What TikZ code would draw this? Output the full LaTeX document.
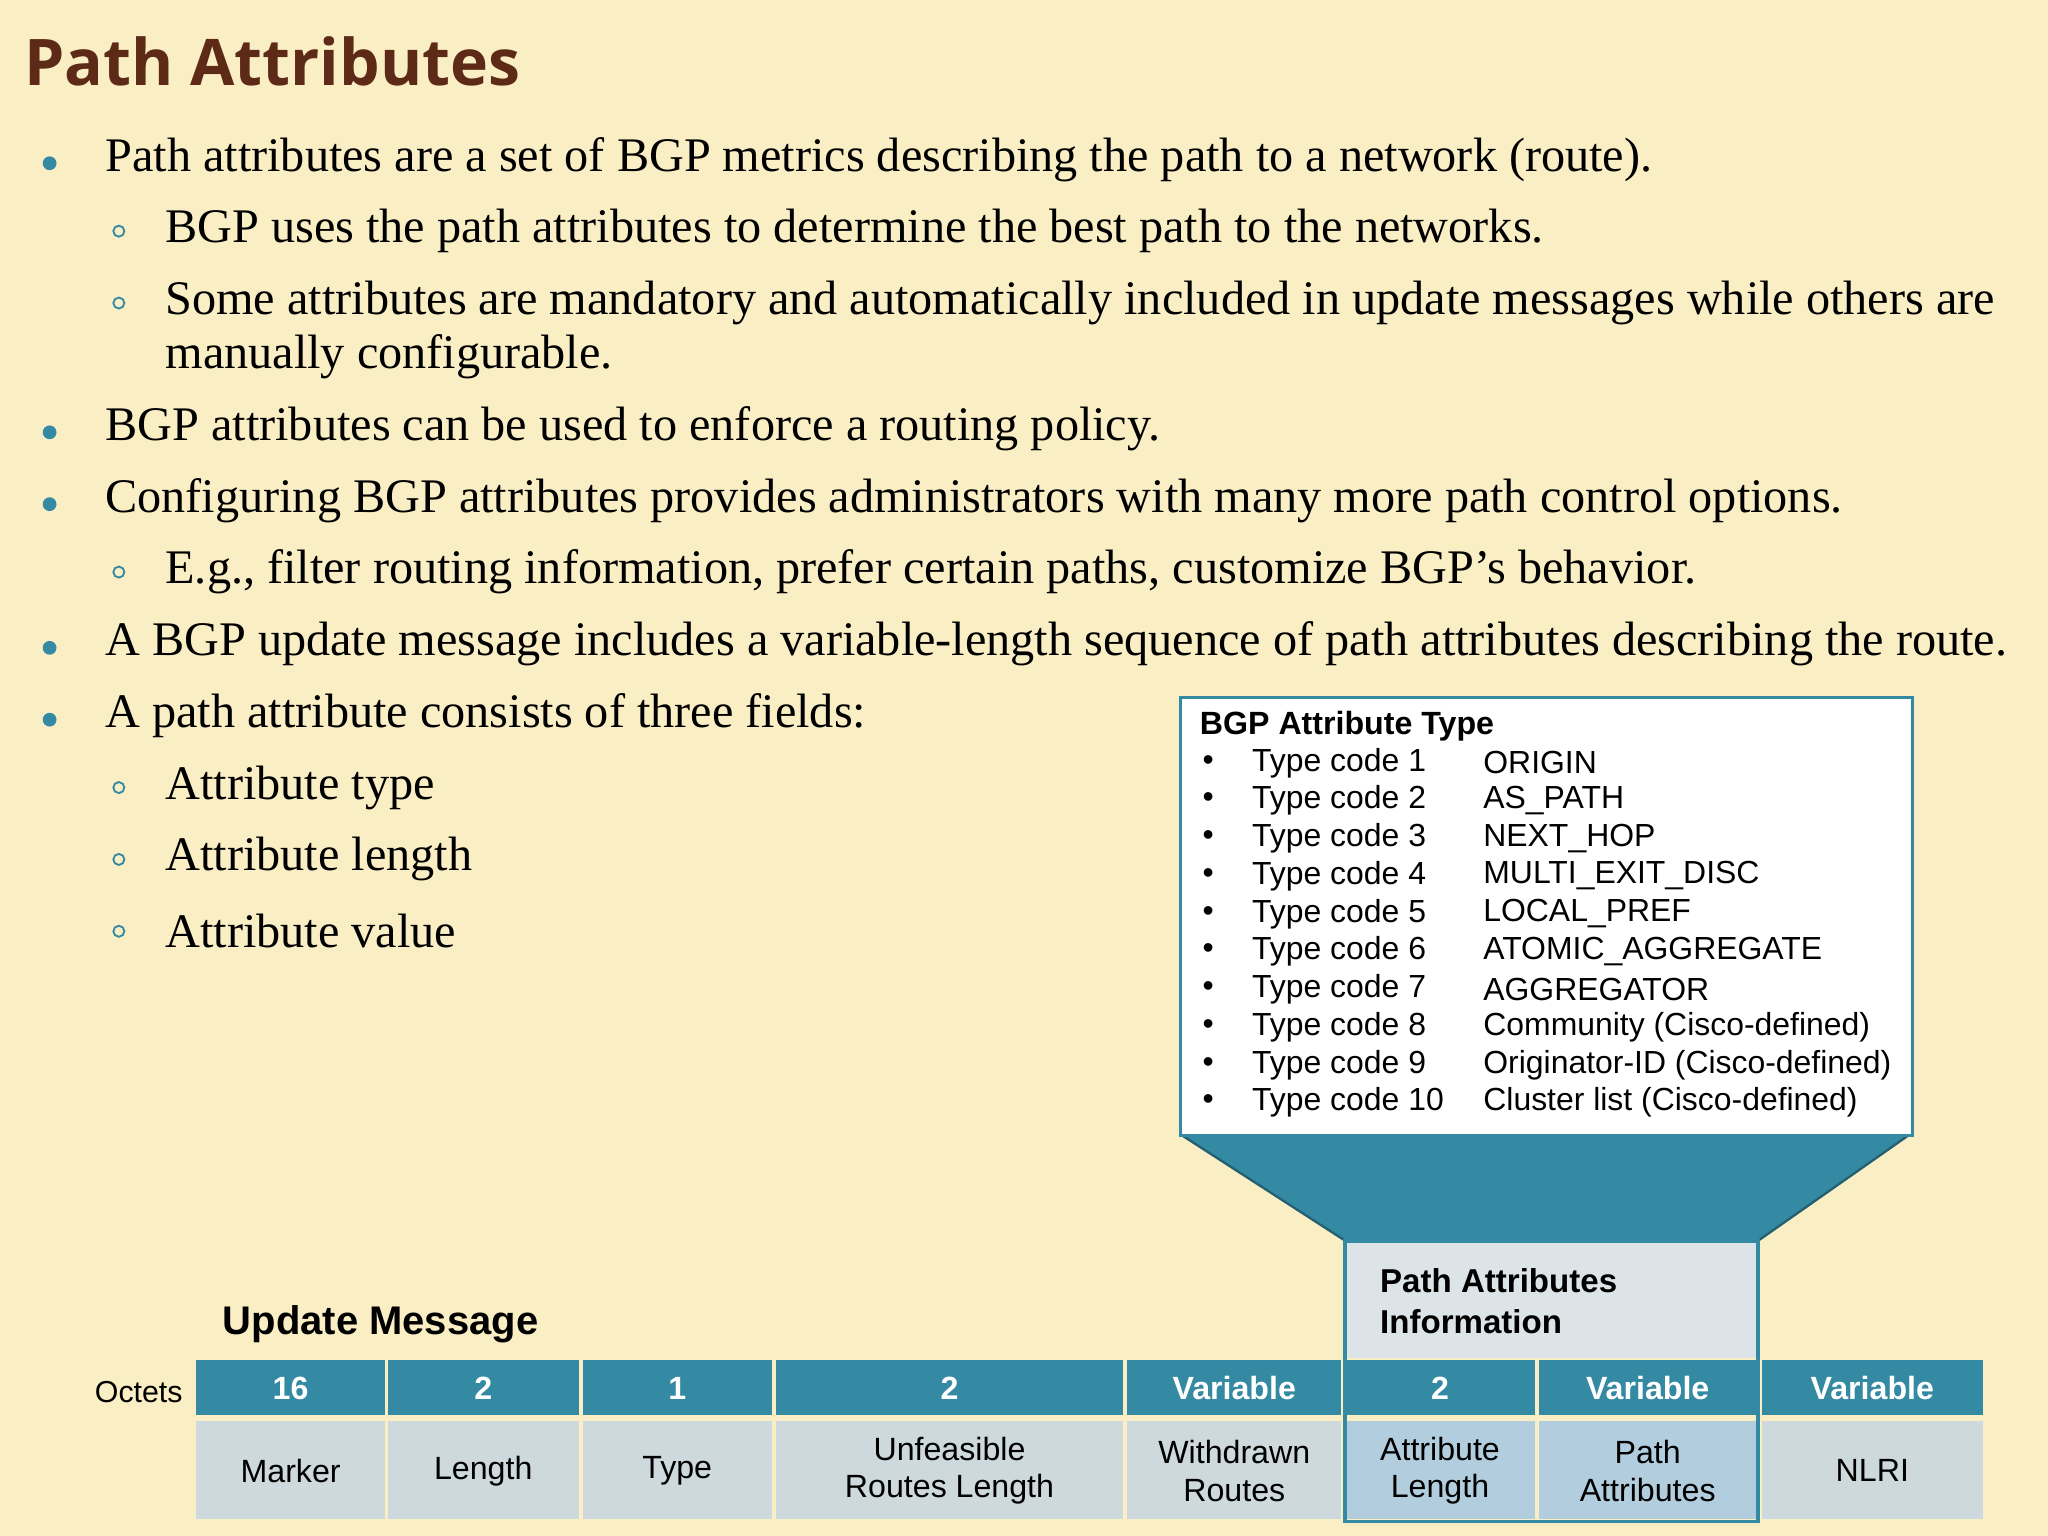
\documentclass[tikz,border=0pt]{standalone}
\usepackage{fontspec}
\setmainfont{Liberation Serif}
\newfontfamily\arialf{Liberation Sans}
\newfontfamily\titlef{Open Sans}
\definecolor{bgc}{RGB}{250,238,196}
\definecolor{teal}{RGB}{52,137,163}
\definecolor{cellc}{RGB}{205,217,220}
\definecolor{hic}{RGB}{178,206,222}
\definecolor{titc}{RGB}{92,42,22}
\begin{document}
\begin{tikzpicture}[x=0.01cm,y=-0.01cm,
  body/.style={anchor=west,inner sep=0,font=\fontsize{10.5}{12}\selectfont},
  dot/.style={circle,fill=teal,inner sep=0,minimum size=3pt},
  sdot/.style={circle,draw=teal,inner sep=0,minimum size=2.4pt,line width=0.4pt},
  box/.style={anchor=west,inner sep=0,font=\arialf\fontsize{6.95}{8}\selectfont},
  hdr/.style={fill=teal,text=white,font=\arialf\bfseries\fontsize{7}{8}\selectfont},
  cell/.style={fill=cellc,font=\arialf\fontsize{7}{8.2}\selectfont,align=center}]
\fill[bgc] (0,0) rectangle (1568,1176);
\useasboundingbox (0,0) rectangle (1568,1176);
\node[anchor=west,inner sep=0,text=titc,font=\titlef\bfseries\fontsize{14}{16}\selectfont] (title) at (18,47) {Path Attributes};
% bullets
\foreach \y/\t [count=\i] in {122/{Path attributes are a set of BGP metrics describing the path to a network (route).},
 328/{BGP attributes can be used to enforce a routing policy.},
 383/{Configuring BGP attributes provides administrators with many more path control options.},
 493/{A BGP update message includes a variable-length sequence of path attributes describing the route.},
 548/{A path attribute consists of three fields:}}{
 \node[dot] (b\i) at (38,\y+3) {};
 \node[body] (t\i) at (80,\y) {\t};}
\foreach \y/\t [count=\i] in {177/{BGP uses the path attributes to determine the best path to the networks.},
 232/{Some attributes are mandatory and automatically included in update messages while others are},
 438/{E.g., filter routing information, prefer certain paths, customize BGP’s behavior.},
 603/{Attribute type},658/{Attribute length},713/{Attribute value}}{
 \node[sdot] (sb\i) at (91,\y) {};
 \node[body] (st\i) at (126,\y) {\t};}
\node[body] (cont) at (126,273) {manually configurable.};
% funnel
\fill[teal] (903,868) -- (1463,868) -- (1346,950) -- (1030,950) -- cycle;
\draw[teal!70!black,line width=0.5pt] (903,868) -- (1030,950) (1463,868) -- (1346,950);
% attribute box
\node[draw=teal,fill=white,line width=0.6pt,minimum width=5.6cm,minimum height=3.35cm,anchor=north west,inner sep=0] (abox) at (903,533) {};
\node[box,font=\arialf\bfseries\fontsize{7}{8}\selectfont] (abt) at (918,556) {BGP Attribute Type};
\foreach \n/\v [count=\i from 0] in {1/ORIGIN,2/AS\_PATH,3/NEXT\_HOP,4/MULTI\_EXIT\_DISC,5/LOCAL\_PREF,6/ATOMIC\_AGGREGATE,7/AGGREGATOR,8/Community (Cisco-defined),9/Originator-ID (Cisco-defined),10/Cluster list (Cisco-defined)}{
 \node[box] (bu\n) at (920,584+28.9*\i) {•};
 \node[box] (tc\n) at (958,584+28.9*\i) {Type code \n};
 \node[box] (tv\n) at (1135,584+28.9*\i) {\v};}
% highlighted region
\fill[cellc!70!white] (1030,950) rectangle (1346,1040);
\node[anchor=west,align=left,inner sep=0,font=\arialf\bfseries\fontsize{7.2}{9}\selectfont] (pai) at (1056,996) {Path Attributes\\Information};
\node[anchor=west,inner sep=0,font=\arialf\bfseries\fontsize{8.7}{10}\selectfont] (um) at (170,1014) {Update Message};
\node[anchor=west,inner sep=0,font=\arialf\fontsize{6.6}{8}\selectfont] (oct) at (72,1066) {Octets};
% table
\foreach \a/\b/\h/\c/\f [count=\i] in {150/295/16/Marker/cellc,297/443/2/Length/cellc,446/591/1/Type/cellc,594/860/2/{Unfeasible\\Routes Length}/cellc,863/1027/Variable/{Withdrawn\\Routes}/cellc,1030/1175/2/{Attribute\\Length}/hic,1178/1345/Variable/{Path\\Attributes}/hic,1349/1518/Variable/NLRI/cellc}{
 \fill[teal] (\a,1041) rectangle (\b,1083);
 \node[font=\arialf\bfseries\fontsize{7}{8}\selectfont,text=white] (h\i) at ({(\a+\b)/2},1063) {\h};
 \fill[\f] (\a,1088) rectangle (\b,1163);
 \node[cell,fill=none] (c\i) at ({(\a+\b)/2},1126) {\c};}
\draw[teal,line width=0.8pt] (1030,950) rectangle (1346,1165);
\end{tikzpicture}
\end{document}
